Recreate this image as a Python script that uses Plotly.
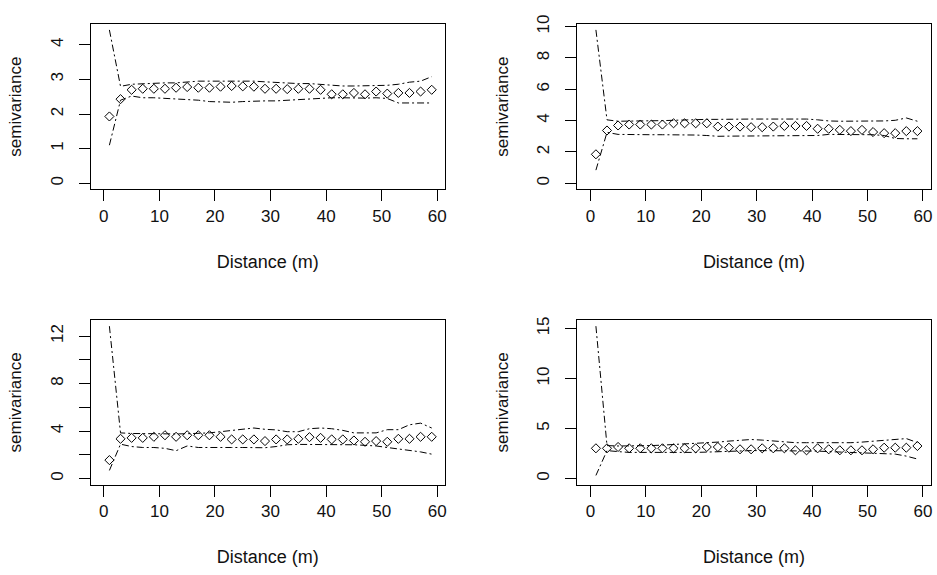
import plotly.graph_objects as go

distance = [1, 3, 5, 7, 9, 11, 13, 15, 17, 19, 21, 23, 25, 27, 29,
            31, 33, 35, 37, 39, 41, 43, 45, 47, 49, 51, 53, 55, 57, 59]

p1_semi = [1.93, 2.43, 2.70, 2.73, 2.73, 2.73, 2.76, 2.78, 2.76, 2.76, 2.79, 2.81, 2.80, 2.79, 2.73,
           2.73, 2.72, 2.73, 2.73, 2.70, 2.57, 2.57, 2.61, 2.57, 2.65, 2.59, 2.61, 2.61, 2.65, 2.70]
p1_upper = [4.43, 2.80, 2.86, 2.88, 2.88, 2.90, 2.90, 2.93, 2.95, 2.95, 2.95, 2.97, 2.97, 2.95, 2.93,
            2.91, 2.90, 2.88, 2.88, 2.86, 2.82, 2.81, 2.81, 2.81, 2.81, 2.83, 2.86, 2.92, 2.95, 3.08]
p1_lower = [1.10, 2.40, 2.52, 2.47, 2.47, 2.45, 2.45, 2.43, 2.40, 2.36, 2.35, 2.34, 2.36, 2.38, 2.38,
            2.38, 2.40, 2.42, 2.43, 2.45, 2.47, 2.47, 2.46, 2.46, 2.47, 2.45, 2.32, 2.32, 2.32, 2.32]

p2_semi = [1.85, 3.37, 3.69, 3.75, 3.75, 3.75, 3.75, 3.83, 3.83, 3.83, 3.83, 3.62, 3.62, 3.62, 3.58,
           3.58, 3.62, 3.66, 3.66, 3.66, 3.48, 3.48, 3.41, 3.33, 3.41, 3.27, 3.20, 3.20, 3.33, 3.33]
p2_upper = [9.79, 4.05, 3.96, 3.96, 3.98, 4.00, 4.00, 4.02, 4.05, 4.08, 4.08, 4.08, 4.10, 4.10, 4.10,
            4.10, 4.10, 4.08, 4.08, 4.10, 4.05, 3.98, 3.96, 3.96, 3.98, 3.98, 3.98, 4.02, 4.17, 3.96]
p2_lower = [0.84, 3.25, 3.12, 3.10, 3.10, 3.10, 3.10, 3.10, 3.10, 3.08, 3.05, 3.00, 3.01, 3.01, 3.01,
            3.01, 3.01, 3.01, 3.01, 3.01, 3.05, 3.12, 3.12, 3.12, 3.12, 3.10, 3.05, 2.86, 2.84, 2.84]

p3_semi = [1.56, 3.35, 3.43, 3.43, 3.52, 3.65, 3.52, 3.65, 3.65, 3.65, 3.52, 3.30, 3.30, 3.30, 3.16,
           3.30, 3.30, 3.35, 3.49, 3.43, 3.30, 3.30, 3.21, 3.10, 3.16, 3.10, 3.35, 3.35, 3.52, 3.52]
p3_upper = [12.83, 3.85, 3.80, 3.78, 3.76, 3.76, 3.76, 3.78, 3.80, 3.85, 3.95, 4.06, 4.20, 4.26, 4.15,
            4.10, 3.95, 3.95, 4.20, 4.26, 4.20, 4.06, 3.85, 3.85, 3.85, 4.12, 4.12, 4.53, 4.67, 4.26]
p3_lower = [0.69, 2.90, 2.70, 2.62, 2.62, 2.55, 2.35, 2.75, 2.62, 2.60, 2.60, 2.62, 2.62, 2.62, 2.60,
            2.70, 2.85, 2.88, 2.88, 2.88, 2.88, 2.85, 2.85, 2.80, 2.75, 2.62, 2.50, 2.35, 2.25, 2.06]

p4_semi = [3.03, 3.03, 3.16, 3.03, 3.03, 3.03, 3.03, 3.03, 3.03, 3.03, 3.16, 3.16, 3.09, 2.93, 2.93,
           3.03, 3.03, 3.03, 2.83, 2.83, 3.03, 2.93, 2.83, 2.83, 2.83, 2.93, 3.09, 3.09, 3.09, 3.26]
p4_upper = [15.23, 3.30, 3.26, 3.26, 3.26, 3.30, 3.35, 3.40, 3.45, 3.55, 3.59, 3.65, 3.75, 3.85, 3.91,
            3.85, 3.75, 3.62, 3.59, 3.59, 3.59, 3.55, 3.55, 3.59, 3.65, 3.75, 3.80, 3.95, 4.00, 3.60]
p4_lower = [0.32, 2.80, 2.70, 2.62, 2.62, 2.62, 2.58, 2.55, 2.58, 2.62, 2.65, 2.70, 2.75, 2.80, 2.80,
            2.80, 2.80, 2.80, 2.80, 2.77, 2.75, 2.70, 2.65, 2.62, 2.62, 2.55, 2.45, 2.45, 2.25, 1.96]

x_ticks = [0, 10, 20, 30, 40, 50, 60]
y_ticks = [[0, 1, 2, 3, 4], [0, 2, 4, 6, 8, 10], [0, 2, 4, 6, 8, 10, 12], [0, 5, 10, 15]]
y_ticktext = [["0", "1", "2", "3", "4"], ["0", "2", "4", "6", "8", "10"],
              ["0", "", "4", "", "8", "", "12"], ["0", "5", "10", "15"]]

panels = [(p1_semi, p1_upper, p1_lower), (p2_semi, p2_upper, p2_lower),
          (p3_semi, p3_upper, p3_lower), (p4_semi, p4_upper, p4_lower)]

W, H = 937, 575
# plot boxes in pixels (left, right, top, bottom)
boxes = [(90.7, 446.0, 15.0, 183.3), (578.3, 932.7, 15.0, 183.3),
         (90.7, 446.0, 316.0, 483.3), (578.3, 932.7, 316.0, 483.3)]

FONT = "Liberation Sans, Arial, sans-serif"
TXT = "#111111"
fig = go.Figure()
dash = "7px,3px,2px,3px"

layout = dict(width=W, height=H, margin=dict(l=0, r=0, t=0, b=0),
              paper_bgcolor="white", plot_bgcolor="white", showlegend=False,
              font=dict(family=FONT, size=17, color=TXT))

for i, (semi, up, lo) in enumerate(panels):
    n = "" if i == 0 else str(i + 1)
    xa, ya = "x" + n, "y" + n
    fig.add_trace(go.Scatter(x=distance, y=up, mode="lines", xaxis=xa, yaxis=ya,
                             line=dict(color="black", width=1, dash=dash)))
    fig.add_trace(go.Scatter(x=distance, y=lo, mode="lines", xaxis=xa, yaxis=ya,
                             line=dict(color="black", width=1, dash=dash)))
    fig.add_trace(go.Scatter(x=distance, y=semi, mode="markers", xaxis=xa, yaxis=ya,
                             marker=dict(symbol="diamond-open", size=7,
                                         color="black", line=dict(width=1, color="black"))))
    l, r, t, b = boxes[i]
    M = max(up)
    common = dict(showgrid=False, zeroline=False, showline=True, linecolor="black",
                  linewidth=1, mirror=True, ticks="outside", ticklen=11, tickwidth=1,
                  tickcolor="black", tickfont=dict(family=FONT, size=17, color=TXT))
    layout["xaxis" + n] = dict(domain=[l / W, r / W], anchor=ya, range=[-2.4, 61.4],
                               tickmode="array", tickvals=x_ticks,
                               title=dict(text="Distance (m)", standoff=30,
                                          font=dict(family=FONT, size=18, color=TXT)),
                               **common)
    layout["yaxis" + n] = dict(domain=[1 - b / H, 1 - t / H], anchor=xa,
                               range=[-0.04 * M, 1.04 * M],
                               tickmode="array", tickvals=y_ticks[i], ticktext=y_ticktext[i],
                               tickangle=-90, ticklabelstandoff=9,
                               title=dict(text="semivariance", standoff=21,
                                          font=dict(family=FONT, size=17, color=TXT)),
                               **common)

fig.update_layout(**layout)
fig.write_html("out.html")
